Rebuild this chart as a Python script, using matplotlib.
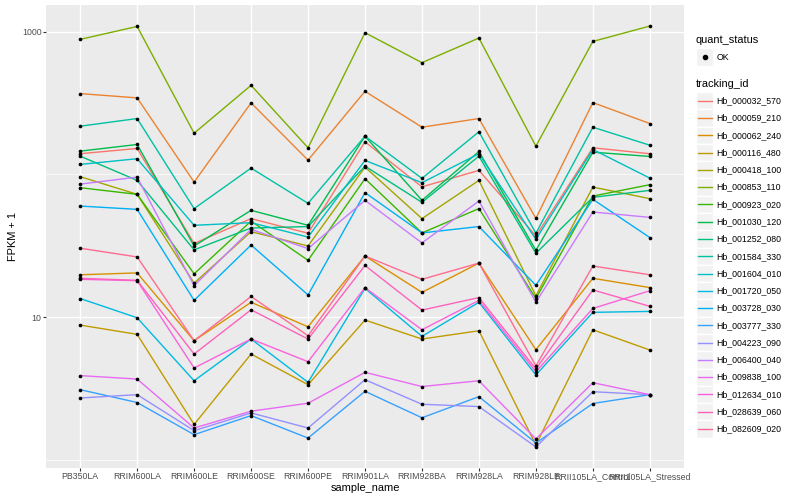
import numpy as np
import matplotlib
matplotlib.use("Agg")
import matplotlib.pyplot as plt
from matplotlib.lines import Line2D
from matplotlib.patches import Rectangle

plt.rcParams['font.family'] = ['Liberation Sans', 'DejaVu Sans']

# x categories
samples = ["PB350LA", "RRIM600LA", "RRIM600LE", "RRIM600SE", "RRIM600PE",
           "RRIM901LA", "RRIM928BA", "RRIM928LA", "RRIM928LE",
           "RRII105LA_Control", "RRII105LA_Stressed"]

tracking_ids = ["Hb_000032_570", "Hb_000059_210", "Hb_000062_240", "Hb_000116_480",
                "Hb_000418_100", "Hb_000853_110", "Hb_000923_020", "Hb_001030_120",
                "Hb_001252_080", "Hb_001584_330", "Hb_001604_010", "Hb_001720_050",
                "Hb_003728_030", "Hb_003777_330", "Hb_004223_090", "Hb_006400_040",
                "Hb_009838_100", "Hb_012634_010", "Hb_028639_060", "Hb_082609_020"]

# ggplot hue palette for 20 groups
colours = ["#F8766D", "#EA8331", "#D89000", "#C09B00", "#A3A500", "#7CAE00",
           "#39B600", "#00BB4E", "#00BF7D", "#00C1A3", "#00BFC4", "#00BAE0",
           "#00B0F6", "#35A2FF", "#9590FF", "#C77CFF", "#E76BF3", "#FA62DB",
           "#FF62BC", "#FF6C91"]

# FPKM + 1 per sample
hb_000032_570 = [139.6, 152.0, 32.8, 49.0, 38.7, 169.3, 81.8, 106.7, 37.0, 153.7, 139.6]
hb_000059_210 = [368.4, 343.9, 88.4, 317.2, 125.9, 382.3, 214.2, 246.4, 49.2, 318.7, 227.3]
hb_000062_240 = [19.8, 20.4, 6.83, 12.7, 8.55, 26.8, 14.9, 23.9, 5.91, 18.7, 16.1]
hb_000116_480 = [8.79, 7.57, 1.77, 5.51, 3.36, 9.53, 7.02, 8.02, 1.27, 8.15, 5.88]
hb_000418_100 = [96.4, 72.5, 17.3, 39.7, 31.5, 112.5, 49.0, 90.8, 14.1, 81.5, 67.6]
hb_000853_110 = [884, 1089, 194.4, 421, 153.7, 984, 607, 903, 157.7, 855, 1096]
hb_000923_020 = [80.7, 72.5, 20.1, 47.1, 25.0, 93.3, 38.9, 57.6, 13.5, 70.5, 84.7]
hb_001030_120 = [145.6, 162.1, 31.5, 56.0, 44.0, 185.3, 65.8, 144.8, 29.4, 143.2, 133.6]
hb_001252_080 = [134.3, 90.8, 29.6, 42.1, 43.1, 114.3, 63.7, 134.3, 28.0, 69.1, 77.3]
hb_001584_330 = [217.7, 246.4, 57.6, 110.7, 62.7, 185.3, 93.8, 198.9, 38.7, 214.2, 160.2]
hb_001604_010 = [117.5, 128.8, 44.0, 45.9, 36.4, 125.3, 87.5, 139.6, 35.1, 149.5, 94.2]
hb_001720_050 = [13.5, 9.89, 3.58, 7.02, 3.49, 15.9, 7.33, 12.7, 3.93, 10.8, 10.96]
hb_003728_030 = [60.0, 56.9, 13.1, 32.0, 14.3, 74.5, 38.9, 43.1, 16.7, 66.9, 36.1]
hb_003777_330 = [3.10, 2.52, 1.50, 2.04, 1.42, 3.02, 1.97, 2.77, 1.31, 2.48, 2.86]
hb_004223_090 = [2.71, 2.86, 1.60, 2.13, 1.67, 3.64, 2.45, 2.36, 1.23, 3.00, 2.86]
hb_006400_040 = [85.5, 95.7, 16.6, 41.2, 30.2, 65.8, 33.1, 65.1, 12.7, 54.5, 50.0]
hb_009838_100 = [3.89, 3.68, 1.67, 2.19, 2.49, 4.10, 3.26, 3.58, 1.40, 3.47, 2.86]
hb_012634_010 = [18.4, 18.0, 4.40, 7.02, 4.87, 16.1, 8.15, 13.1, 4.14, 11.5, 15.3]
hb_028639_060 = [18.7, 18.1, 5.51, 11.25, 7.02, 23.0, 11.2, 13.7, 4.33, 15.5, 11.9]
hb_082609_020 = [30.4, 26.4, 6.83, 13.95, 7.40, 26.8, 18.4, 23.9, 4.54, 22.8, 19.8]

series = [hb_000032_570, hb_000059_210, hb_000062_240, hb_000116_480, hb_000418_100,
          hb_000853_110, hb_000923_020, hb_001030_120, hb_001252_080, hb_001584_330,
          hb_001604_010, hb_001720_050, hb_003728_030, hb_003777_330, hb_004223_090,
          hb_006400_040, hb_009838_100, hb_012634_010, hb_028639_060, hb_082609_020]

W, H = 800, 500
fig = plt.figure(figsize=(W / 100, H / 100), dpi=100)

def fx(x):
    return x / W

def fy(y):
    return 1 - y / H

# panel placement (pixels)
left, right, top, bottom = 46, 684, 5, 468
ax = fig.add_axes([fx(left), fy(bottom), fx(right - left), (bottom - top) / H])
ax.set_facecolor("#EBEBEB")
for s in ax.spines.values():
    s.set_visible(False)

xpos = np.arange(len(samples))
for vals, col in zip(series, colours):
    ax.plot(xpos, vals, color=col, lw=1.0, zorder=2)
for vals in series:
    ax.scatter(xpos, vals, s=7, color="black", zorder=3, linewidths=0)

ax.set_yscale("log")
allv = np.log10(np.concatenate([np.array(v, dtype=float) for v in series]))
lo, hi = allv.min(), allv.max()
pad = (hi - lo) * 0.05
ax.set_ylim(10 ** (lo - pad), 10 ** (hi + pad))
ax.set_xlim(-0.6, len(samples) - 1 + 0.6)

ax.set_yticks([10, 1000])
ax.set_yticklabels(["10", "1000"])
ax.set_yticks([1, 100], minor=True)
ax.set_yticklabels([], minor=True)
ax.set_xticks(xpos)
ax.set_xticklabels(samples)
ax.tick_params(axis="both", which="major", length=2, width=0.8, color="#333333",
               labelsize=6.35, labelcolor="#4D4D4D", pad=1.2)
ax.tick_params(axis="both", which="minor", length=0)
ax.grid(which="major", color="white", lw=1.0)
ax.grid(which="minor", axis="y", color="white", lw=0.5)
ax.set_axisbelow(True)

ax.set_xlabel("sample_name", fontsize=7.9, labelpad=1)
ax.set_ylabel("FPKM + 1", fontsize=7.9, labelpad=3)

# legend drawn by hand, ggplot style
lx = 696
fig.text(fx(lx), fy(40), "quant_status", fontsize=7.9, va="center", ha="left")
key = 17.3
fig.add_artist(Rectangle((fx(lx), fy(57 + key / 2)), key / W, key / H,
                         facecolor="#F2F2F2", edgecolor="white", lw=1))
fig.add_artist(Line2D([fx(lx + key / 2)], [fy(57)], marker="o", ms=3,
                      color="black", lw=0))
fig.text(fx(lx + key + 3), fy(57), "OK", fontsize=6.35, va="center", ha="left")

fig.text(fx(lx), fy(84), "tracking_id", fontsize=7.9, va="center", ha="left")
for i, (name, col) in enumerate(zip(tracking_ids, colours)):
    cy = 100.7 + i * 17.28
    fig.add_artist(Rectangle((fx(lx), fy(cy + key / 2)), key / W, key / H,
                             facecolor="#F2F2F2", edgecolor="white", lw=1))
    fig.add_artist(Line2D([fx(lx + 1.7), fx(lx + key - 1.7)], [fy(cy), fy(cy)],
                          color=col, lw=1.0))
    fig.text(fx(lx + key + 3), fy(cy), name, fontsize=6.35, va="center", ha="left")

fig.savefig("out.png", dpi=100)
